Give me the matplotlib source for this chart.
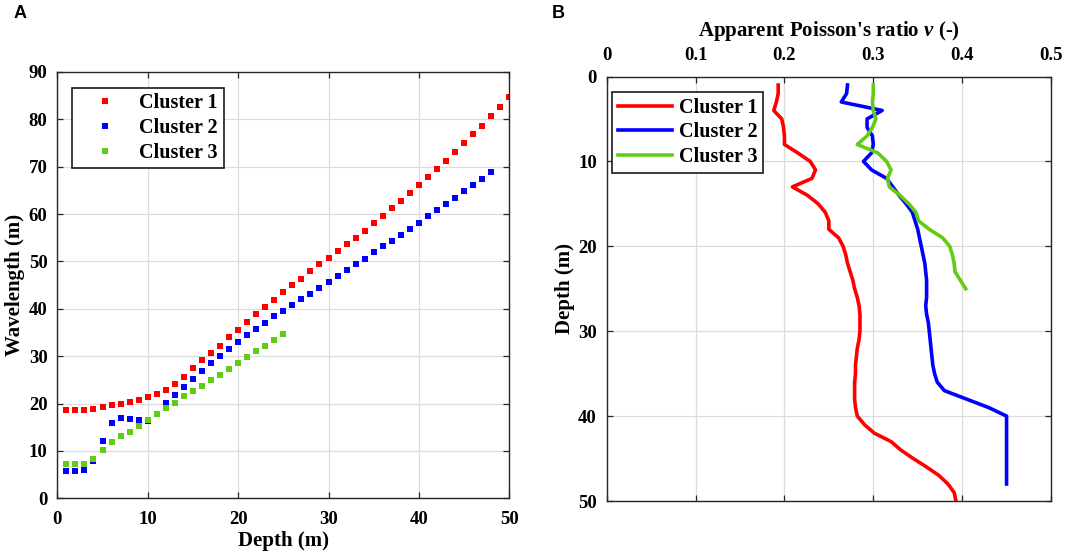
import numpy as np
import matplotlib
matplotlib.use("Agg")
import matplotlib.pyplot as plt

# ---------------- data ----------------
depth_c1 = list(range(1, 51))
depth_c2 = list(range(1, 49))
depth_c3 = list(range(1, 26))

wavelength_c1 = [18.7, 18.7, 18.7, 18.9, 19.3, 19.7, 20.0, 20.3, 20.7, 21.4,
                 22.0, 22.9, 24.1, 25.7, 27.5, 29.1, 30.7, 32.2, 34.0, 35.6,
                 37.3, 38.9, 40.4, 41.9, 43.5, 45.0, 46.4, 47.9, 49.4, 50.7,
                 52.2, 53.6, 55.0, 56.5, 58.1, 59.6, 61.2, 62.8, 64.5, 66.1,
                 67.9, 69.6, 71.3, 73.2, 75.0, 76.9, 78.7, 80.7, 82.7, 84.8]
wavelength_c2 = [5.7, 5.7, 6.0, 7.9, 12.0, 15.9, 17.0, 16.7, 16.5, 16.4,
                 17.7, 20.1, 21.9, 23.6, 25.2, 26.8, 28.5, 30.0, 31.5, 33.0,
                 34.4, 35.8, 37.1, 38.4, 39.6, 40.8, 42.0, 43.2, 44.4, 45.7,
                 47.0, 48.2, 49.4, 50.6, 51.9, 53.2, 54.4, 55.6, 56.9, 58.1,
                 59.5, 60.8, 62.1, 63.4, 64.8, 66.1, 67.5, 68.9]
wavelength_c3 = [7.2, 7.2, 7.2, 8.3, 10.2, 11.8, 13.1, 14.1, 15.3, 16.6,
                 17.7, 19.0, 20.2, 21.5, 22.6, 23.8, 25.0, 26.1, 27.4, 28.5,
                 29.8, 31.0, 32.2, 33.4, 34.7]

poisson_c1 = [0.193, 0.193, 0.191, 0.188, 0.197, 0.199, 0.200, 0.200, 0.215, 0.229,
              0.235, 0.231, 0.209, 0.226, 0.238, 0.246, 0.250, 0.250, 0.261, 0.266,
              0.269, 0.271, 0.274, 0.277, 0.279, 0.282, 0.284, 0.285, 0.285, 0.285,
              0.284, 0.282, 0.281, 0.280, 0.280, 0.279, 0.279, 0.279, 0.280, 0.282,
              0.290, 0.301, 0.320, 0.331, 0.345, 0.360, 0.374, 0.384, 0.391, 0.393]
poisson_c2 = [0.271, 0.270, 0.264, 0.310, 0.293, 0.293, 0.299, 0.300, 0.298, 0.289,
              0.298, 0.315, 0.322, 0.329, 0.337, 0.344, 0.347, 0.350, 0.352, 0.354,
              0.356, 0.358, 0.359, 0.360, 0.360, 0.360, 0.359, 0.360, 0.362, 0.363,
              0.364, 0.365, 0.366, 0.367, 0.369, 0.372, 0.380, 0.405, 0.430, 0.450,
              0.450, 0.450, 0.450, 0.450, 0.450, 0.450, 0.450, 0.450]
poisson_c3 = [0.300, 0.300, 0.299, 0.300, 0.303, 0.299, 0.293, 0.282, 0.305, 0.315,
              0.320, 0.316, 0.318, 0.330, 0.340, 0.348, 0.351, 0.363, 0.378, 0.386,
              0.389, 0.391, 0.392, 0.398, 0.404]

labels = ["Cluster 1", "Cluster 2", "Cluster 3"]
colors = ["#FF0000", "#0000FF", "#62CC14"]

xticks_a = [0, 10, 20, 30, 40, 50]
yticks_a = [0, 10, 20, 30, 40, 50, 60, 70, 80, 90]
xticks_b = [0, 0.1, 0.2, 0.3, 0.4, 0.5]
xticklabels_b = ["0", "0.1", "0.2", "0.3", "0.4", "0.5"]
yticks_b = [0, 10, 20, 30, 40, 50]

# ---------------- style ----------------
plt.rcParams['font.family'] = ['Liberation Serif', 'DejaVu Serif']
plt.rcParams['font.weight'] = 'bold'
plt.rcParams['mathtext.fontset'] = 'custom'
plt.rcParams['mathtext.it'] = 'Liberation Serif:italic:bold'
plt.rcParams['mathtext.rm'] = 'Liberation Serif:bold'

TICK_FS = 13.5
LABEL_FS = 15
LEG_FS = 14.5
AX_COLOR = "#262626"
GRID_COLOR = "#dcdcdc"

W, H = 1065, 560
fig = plt.figure(figsize=(W / 100, H / 100), dpi=100)


def px_axes(l, t, r, b):
    return fig.add_axes([l / W, 1 - b / H, (r - l) / W, (b - t) / H])


def style_axes(ax):
    for s in ax.spines.values():
        s.set_color(AX_COLOR)
        s.set_linewidth(1.0)
    ax.grid(True, color=GRID_COLOR, linewidth=0.9)
    ax.set_axisbelow(True)
    ax.tick_params(direction='in', length=4, width=0.9, color=AX_COLOR,
                   top=True, right=True, labelsize=TICK_FS, pad=7)
    for lab in ax.get_xticklabels() + ax.get_yticklabels():
        lab.set_fontweight('bold')


LEG_KW = dict(loc='upper left', borderaxespad=0, fontsize=LEG_FS, handlelength=2.7,
              handletextpad=0.35, borderpad=0.28, labelspacing=0.24, fancybox=False,
              framealpha=1, edgecolor='#1a1a1a')

# ---------------- panel A ----------------
axA = px_axes(57.3, 72, 509.3, 498.3)
for d, w, c, lab in zip([depth_c1, depth_c2, depth_c3],
                        [wavelength_c1, wavelength_c2, wavelength_c3],
                        colors, labels):
    axA.plot(d, w, linestyle='none', marker='s', markersize=4.7,
             markeredgewidth=0, color=c, label=lab)
axA.set_xlim(0, 50)
axA.set_ylim(0, 90)
axA.set_xticks(xticks_a)
axA.set_yticks(yticks_a)
style_axes(axA)
axA.tick_params(axis='x', pad=9)
axA.set_xlabel("Depth (m)", fontsize=LABEL_FS, fontweight='bold', labelpad=2)
axA.set_ylabel("Wavelength (m)", fontsize=LABEL_FS, fontweight='bold', labelpad=3)
legA = axA.legend(bbox_to_anchor=((72.4 - 57.3) / 452, (498.3 - 87.5) / 426.3), **LEG_KW)
legA.get_frame().set_linewidth(1.2)
for t in legA.get_texts():
    t.set_fontweight('bold')

# ---------------- panel B ----------------
axB = px_axes(606.7, 76.5, 1051, 501)
for d, p, c, lab in zip([depth_c1, depth_c2, depth_c3],
                        [poisson_c1, poisson_c2, poisson_c3],
                        colors, labels):
    axB.plot(p, d, color=c, linewidth=2.6, label=lab)
axB.set_xlim(0, 0.5)
axB.set_ylim(50, 0)
axB.set_xticks(xticks_b)
axB.set_xticklabels(xticklabels_b)
axB.set_yticks(yticks_b)
style_axes(axB)
axB.tick_params(axis='x', labeltop=True, labelbottom=False, pad=9)
axB.xaxis.set_label_position('top')
axB.set_xlabel(r"Apparent Poisson's ratio $\nu$ (-)", fontsize=LABEL_FS,
               fontweight='bold', labelpad=8)
axB.set_ylabel("Depth (m)", fontsize=LABEL_FS, fontweight='bold', labelpad=2)
legB = axB.legend(bbox_to_anchor=((612 - 606.7) / 444.3, (501 - 92) / 424.5), **LEG_KW)
legB.get_frame().set_linewidth(1.2)
for t in legB.get_texts():
    t.set_fontweight('bold')

# panel letters
fig.text(14 / W, 1 - 18 / H, "A", family=['Liberation Sans', 'DejaVu Sans'],
         fontweight='bold', fontsize=13, va='baseline', ha='left')
fig.text(552 / W, 1 - 18 / H, "B", family=['Liberation Sans', 'DejaVu Sans'],
         fontweight='bold', fontsize=13, va='baseline', ha='left')

fig.savefig("out.png", dpi=100)
